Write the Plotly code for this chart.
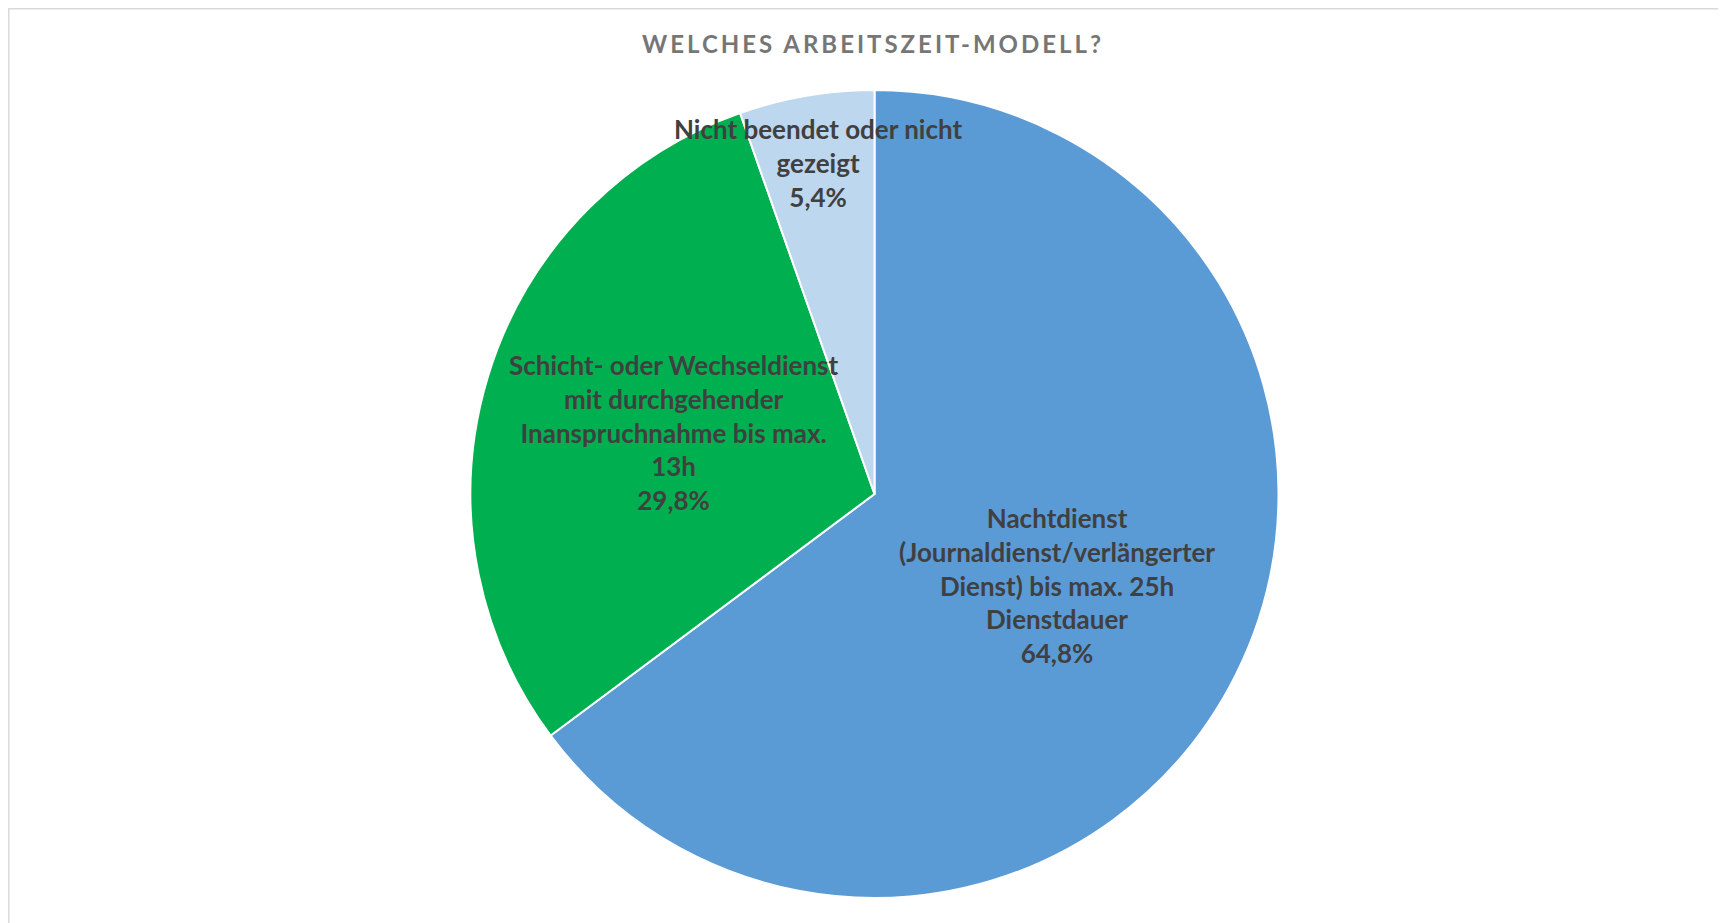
import math
import plotly.graph_objects as go

# Data
labels = [
    "Nachtdienst<br>(Journaldienst/verlängerter<br>Dienst) bis max. 25h<br>Dienstdauer",
    "Schicht- oder Wechseldienst<br>mit durchgehender<br>Inanspruchnahme bis max.<br>13h",
    "Nicht beendet oder nicht<br>gezeigt",
]
values = [64.8, 29.8, 5.4]
value_text = ["64,8%", "29,8%", "5,4%"]
colors = ["#5B9BD5", "#00B050", "#BDD7EE"]
label_radius = [0.505, 0.52, 0.83]  # fraction of pie radius for label placement

W, H = 1726, 923
OFF = 8  # page body margin
cx_px, cy_px, R = 874.5 - OFF, 494 - OFF, 404

dom_x = [(cx_px - R) / W, (cx_px + R) / W]
dom_y = [(H - (cy_px + R)) / H, (H - (cy_px - R)) / H]

fig = go.Figure()
fig.add_trace(go.Pie(
    labels=[l.replace("<br>", " ") for l in labels],
    values=values,
    sort=False,
    direction="clockwise",
    rotation=0,
    marker=dict(colors=colors, line=dict(color="white", width=2)),
    textinfo="none",
    hoverinfo="label+percent",
    showlegend=False,
    domain=dict(x=dom_x, y=dom_y),
))

total = sum(values)
cum = 0.0
annotations = []
for lab, v, vt, fr in zip(labels, values, value_text, label_radius):
    mid = (cum + v / 2) / total * 2 * math.pi
    cum += v
    px = cx_px + fr * R * math.sin(mid)
    py = cy_px - fr * R * math.cos(mid)
    annotations.append(dict(
        x=px / W, y=1 - py / H, xref="paper", yref="paper",
        text=f"{lab}<br>{vt}", showarrow=False, align="center",
        xanchor="center", yanchor="middle",
        font=dict(family="Lato", size=26, color="#404040", weight="bold"),
    ))

annotations.append(dict(
    x=(873 - OFF) / W, y=1 - (43 - OFF) / H, xref="paper", yref="paper",
    text='<span style="letter-spacing:3px">WELCHES ARBEITSZEIT-MODELL?</span>',
    showarrow=False, xanchor="center", yanchor="middle",
    font=dict(family="Lato", size=24, color="#767676", weight="bold"),
))

fig.update_layout(
    width=W, height=H,
    margin=dict(l=0, r=0, t=0, b=0),
    paper_bgcolor="white",
    plot_bgcolor="white",
    annotations=annotations,
    shapes=[dict(type="rect", xref="paper", yref="paper",
                 x0=0.8 / W, x1=1.05, y0=-0.05, y1=1 - 0.8 / H,
                 line=dict(color="#D9D9D9", width=1.5), fillcolor="rgba(0,0,0,0)")],
)

fig.write_html("out.html")
